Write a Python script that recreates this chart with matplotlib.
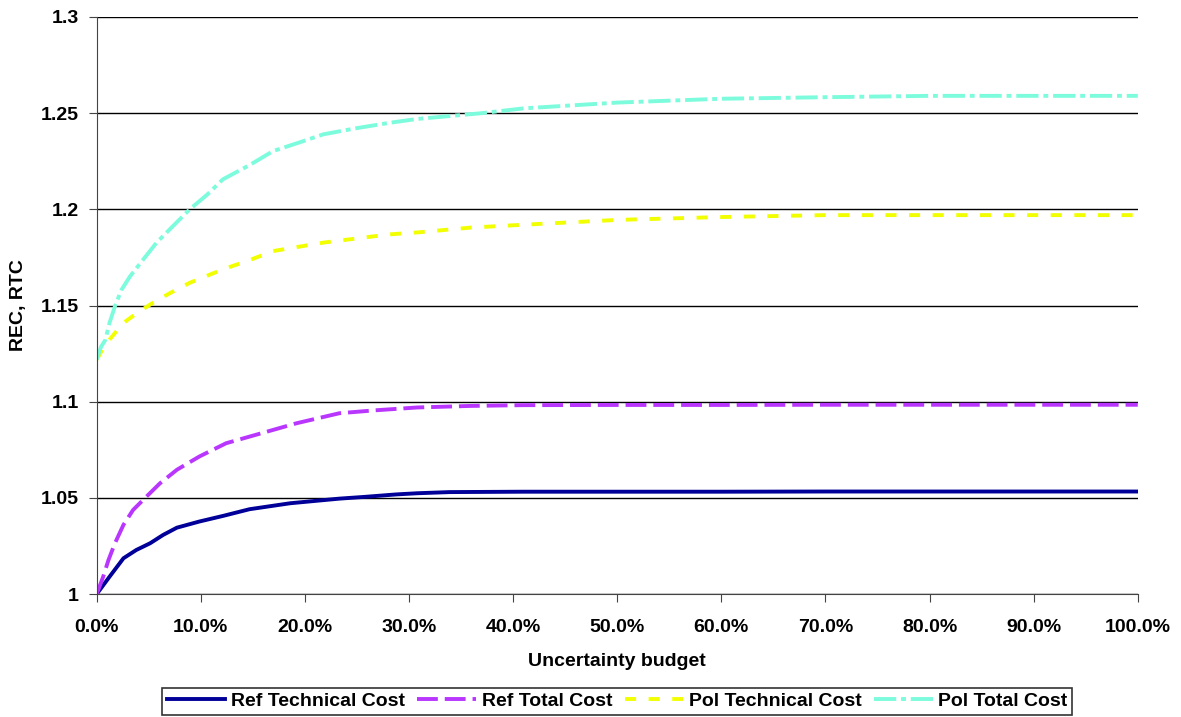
import matplotlib
matplotlib.use("Agg")
import matplotlib.pyplot as plt
from matplotlib.ticker import PercentFormatter

plt.rcParams['font.family'] = ['Liberation Sans', 'DejaVu Sans']
plt.rcParams['font.weight'] = 'bold'
plt.rcParams['lines.scale_dashes'] = False

# uncertainty budget (fraction) and relative costs
x_ref_tech = [0.0, 0.0123, 0.0257, 0.038, 0.0513, 0.0637, 0.077, 0.0986, 0.1212, 0.1468, 0.1859, 0.2331,
              0.257, 0.288, 0.308, 0.339, 0.41, 0.50, 0.60, 0.70, 0.80, 0.90, 1.0]
ref_technical = [1.0, 1.009, 1.0186, 1.0229, 1.0264, 1.0307, 1.0345, 1.0377, 1.0406, 1.0441, 1.0472, 1.0496,
                 1.0505, 1.0518, 1.0524, 1.0530, 1.0532, 1.0532, 1.0532, 1.0533, 1.0533, 1.0533, 1.0533]

x_ref_total = [0.0, 0.0062, 0.0113, 0.0175, 0.0257, 0.0349, 0.0462, 0.0606, 0.077, 0.0986, 0.1243, 0.153,
               0.192, 0.2331, 0.267, 0.308, 0.359, 0.41, 0.50, 0.60, 0.70, 0.80, 0.90, 1.0]
ref_total = [1.0, 1.009, 1.0177, 1.0264, 1.036, 1.0437, 1.0498, 1.0575, 1.0646, 1.0715, 1.0784, 1.0828,
             1.0888, 1.094, 1.0955, 1.097, 1.0978, 1.0982, 1.0983, 1.0983, 1.0984, 1.0984, 1.0984, 1.0984]

x_pol_tech = [0.0, 0.0062, 0.0123, 0.0257, 0.038, 0.0513, 0.0698, 0.0893, 0.1212, 0.1468, 0.1694, 0.2177,
              0.2814, 0.308, 0.359, 0.41, 0.50, 0.60, 0.70, 0.80, 0.90, 1.0]
pol_technical = [1.1219, 1.1278, 1.1323, 1.141, 1.1458, 1.1505, 1.1563, 1.1618, 1.1688, 1.1736, 1.1783, 1.1827,
                 1.187, 1.188, 1.1905, 1.192, 1.1945, 1.196, 1.197, 1.197, 1.197, 1.197]

x_pol_total = [0.0, 0.0041, 0.0082, 0.0123, 0.0175, 0.0236, 0.0318, 0.0442, 0.0575, 0.0729, 0.0893, 0.1058,
               0.1212, 0.1468, 0.1694, 0.192, 0.2177, 0.2495, 0.2814, 0.308, 0.37, 0.41, 0.50, 0.60,
               0.70, 0.80, 0.90, 1.0]
pol_total = [1.1219, 1.1285, 1.132, 1.141, 1.1496, 1.158, 1.165, 1.1736, 1.1827, 1.1911, 1.200, 1.2075,
             1.2156, 1.223, 1.2303, 1.2343, 1.239, 1.2422, 1.245, 1.247, 1.250, 1.2525, 1.2555, 1.2575,
             1.2583, 1.259, 1.259, 1.259]

x_ticks = [0.0, 0.1, 0.2, 0.3, 0.4, 0.5, 0.6, 0.7, 0.8, 0.9, 1.0]
y_ticks = [1.0, 1.05, 1.1, 1.15, 1.2, 1.25, 1.3]
y_ticklabels = ['1', '1.05', '1.1', '1.15', '1.2', '1.25', '1.3']

fig = plt.figure(figsize=(11.81, 7.17), dpi=100)
ax = fig.add_axes([0.0819, 0.1715, 0.8815, 0.8048])

ax.plot(x_ref_tech, ref_technical, color='#000099', lw=2.8, label='Ref Technical Cost')
ax.plot(x_ref_total, ref_total, color='#B936FF', lw=2.8, dashes=(15, 5), label='Ref Total Cost')
ax.plot(x_pol_tech, pol_technical, color='#F2FF00', lw=2.8, dashes=(8, 9), label='Pol Technical Cost')
ax.plot(x_pol_total, pol_total, color='#7CFCDC', lw=2.8, dashes=(16, 3.5, 3.5, 3.5), label='Pol Total Cost')

ax.set_xlim(0, 1)
ax.set_ylim(1.0, 1.3)
ax.set_xticks(x_ticks)
ax.xaxis.set_major_formatter(PercentFormatter(1.0, decimals=1))
ax.set_yticks(y_ticks)
ax.set_yticklabels(y_ticklabels)
ax.grid(axis='y', color='black', lw=1)
ax.set_axisbelow(True)
for s in ['top', 'right']:
    ax.spines[s].set_visible(False)
for s in ['left', 'bottom']:
    ax.spines[s].set_color('#444444')
ax.tick_params(axis='both', direction='out', length=6, color='#444444', labelsize=14)
ax.tick_params(axis='x', pad=12)
ax.tick_params(axis='y', pad=7)
for lab in ax.get_xticklabels() + ax.get_yticklabels():
    lab.set_fontweight('bold')

ax.set_xlabel('Uncertainty budget', fontsize=14, fontweight='bold', labelpad=12)
ax.set_ylabel('REC, RTC', fontsize=14, fontweight='bold', labelpad=10)

leg = fig.legend(loc='lower center', bbox_to_anchor=(0.5225, 0.0), ncol=4, frameon=True,
                 fancybox=False, edgecolor='black', fontsize=14, handlelength=3.0,
                 columnspacing=0.65, handletextpad=0.3, borderpad=0.25, borderaxespad=0.1)
leg.get_frame().set_linewidth(1.2)
for t in leg.get_texts():
    t.set_fontweight('bold')

fig.savefig('out.png', dpi=100)
